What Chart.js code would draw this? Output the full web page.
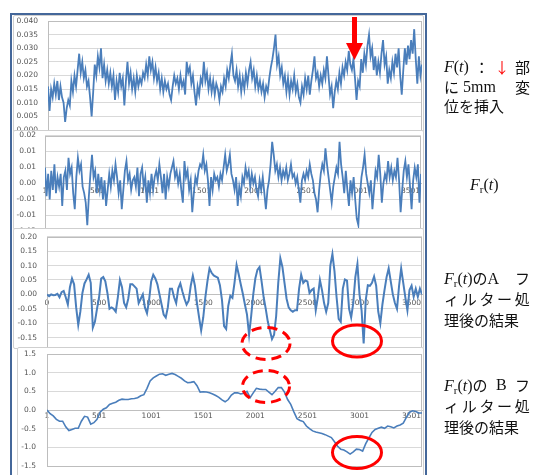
<!DOCTYPE html>
<html>
<head>
<meta charset="utf-8">
<script src="https://cdn.jsdelivr.net/npm/chart.js@4.4.0/dist/chart.umd.min.js"></script>
<style>
body{margin:0;width:534px;height:475px;overflow:hidden;background:#fff;position:relative;font-family:"Noto Sans CJK JP",sans-serif}
.panel{position:absolute;background:#fff;border:1px solid #cfcfcf;border-radius:2px;overflow:hidden;box-sizing:border-box}
.panel canvas{position:absolute;left:0;top:0}
#frame{position:absolute;left:10px;top:13px;width:417px;height:470px;border:2px solid #44679a;border-bottom:none;box-sizing:border-box;pointer-events:none}
.note{position:absolute;left:444px;width:86px;font-size:15px;line-height:18px;height:18px;white-space:nowrap;color:#111;display:flex;align-items:center}
.jus{justify-content:space-between}
.m{font-family:"Liberation Serif",serif;font-size:16px}
.m i{font-style:italic}
.m sub{font-size:11px;vertical-align:-3px;line-height:0}
.red{color:#ff0000}
</style>
</head>
<body>

<div class="panel" style="left:13px;top:15px;width:411px;height:118px"><canvas id="c1" width="409" height="120"></canvas></div>
<div class="panel" style="left:13px;top:130px;width:411px;height:100px"><canvas id="c2" width="409" height="104"></canvas></div>
<div class="panel" style="left:13px;top:228px;width:411px;height:121px"><canvas id="c3" width="409" height="127"></canvas></div>
<div class="panel" style="left:17px;top:347px;width:407px;height:130px"><canvas id="c4" width="405" height="124"></canvas></div>
<div id="frame"></div>

<svg width="534" height="475" style="position:absolute;left:0;top:0;pointer-events:none">
  <polygon points="352,17 357,17 357,43 363,43 354.5,60 346,43 352,43" fill="#ff0000"/>
  <ellipse cx="266" cy="343.5" rx="24" ry="16" fill="none" stroke="#ff0000" stroke-width="3" stroke-dasharray="10 6"/>
  <ellipse cx="357" cy="341" rx="24.5" ry="16" fill="none" stroke="#ff0000" stroke-width="3"/>
  <ellipse cx="266" cy="386.5" rx="23.5" ry="16" fill="none" stroke="#ff0000" stroke-width="3" stroke-dasharray="10 6"/>
  <ellipse cx="357" cy="452.5" rx="24.5" ry="16" fill="none" stroke="#ff0000" stroke-width="3"/>
</svg>

<div class="note jus" style="top:58px"><span class="m"><i>F</i>(<i>t</i>)</span><span>：</span><span class="red">↓</span><span>部</span></div>
<div class="note" style="top:78px"><span>に</span><span class="m" style="margin-left:4px">5mm</span><span style="margin-left:auto">変</span></div>
<div class="note" style="top:97px"><span>位を挿入</span></div>

<div class="note" style="top:176px;left:470px"><span class="m"><i>F</i><sub>r</sub>(<i>t</i>)</span></div>

<div class="note jus" style="top:269px"><span><span class="m"><i>F</i><sub>r</sub>(<i>t</i>)</span>の<span class="m">A</span></span><span>フ</span></div>
<div class="note" style="top:290px;letter-spacing:2.7px"><span>ィルター処</span></div>
<div class="note" style="top:311px"><span>理後の結果</span></div>

<div class="note jus" style="top:376px"><span><span class="m"><i>F</i><sub>r</sub>(<i>t</i>)</span>の</span><span class="m">B</span><span>フ</span></div>
<div class="note" style="top:397px;letter-spacing:2.7px"><span>ィルター処</span></div>
<div class="note" style="top:418px"><span>理後の結果</span></div>

<script>
// F(t): raw displacement, one value every 15 samples
const p1Step = 15
const p1Values = [
  0.016, 0.007, 0.015, 0.012, 0.017, 0.013, 0.018, 0.011, 0.016, 0.012,
  0.010, 0.003, 0.008, 0.011, 0.009, 0.018, 0.014, 0.020, 0.016, 0.022,
  0.028, 0.021, 0.025, 0.019, 0.022, 0.016, 0.018, 0.012, 0.005, 0.014,
  0.024, 0.020, 0.027, 0.023, 0.030, 0.019, 0.024, 0.018, 0.022, 0.017,
  0.021, 0.016, 0.020, 0.011, 0.018, 0.014, 0.021, 0.016, 0.019, 0.009,
  0.018, 0.025, 0.017, 0.021, 0.015, 0.019, 0.014, 0.020, 0.016, 0.019,
  0.017, 0.021, 0.019, 0.024, 0.020, 0.027, 0.022, 0.025, 0.019, 0.023,
  0.018, 0.021, 0.015, 0.019, 0.014, 0.018, 0.015, 0.017, 0.013, 0.011,
  0.016, 0.020, 0.017, 0.019, 0.015, 0.020, 0.016, 0.018, 0.013, 0.025,
  0.021, 0.023, 0.017, 0.020, 0.014, 0.009, 0.016, 0.013, 0.019, 0.017,
  0.025, 0.018, 0.021, 0.015, 0.019, 0.014, 0.018, 0.013, 0.017, 0.015,
  0.011, 0.016, 0.014, 0.019, 0.016, 0.022, 0.019, 0.024, 0.028, 0.020,
  0.018, 0.022, 0.016, 0.020, 0.014, 0.019, 0.015, 0.021, 0.017, 0.022,
  0.025, 0.019, 0.022, 0.016, 0.020, 0.015, 0.018, 0.014, 0.017, 0.012,
  0.016, 0.014, 0.019, 0.023, 0.026, 0.030, 0.035, 0.024, 0.027, 0.020,
  0.023, 0.017, 0.020, 0.014, 0.019, 0.013, 0.018, 0.015, 0.020, 0.014,
  0.017, 0.012, 0.010, 0.016, 0.013, 0.019, 0.015, 0.020, 0.013, 0.018,
  0.022, 0.027, 0.019, 0.021, 0.016, 0.020, 0.017, 0.022, 0.019, 0.027,
  0.020, 0.013, 0.016, 0.008, 0.014, 0.018, 0.015, 0.021, 0.017, 0.023,
  0.020, 0.025, 0.022, 0.029, 0.024, 0.022, 0.026, 0.019, 0.011, 0.018,
  0.016, 0.026, 0.021, 0.028, 0.024, 0.031, 0.035, 0.027, 0.030, 0.022,
  0.027, 0.020, 0.025, 0.021, 0.028, 0.033, 0.024, 0.027, 0.017, 0.022,
  0.019, 0.025, 0.021, 0.028, 0.023, 0.030, 0.020, 0.013, 0.022, 0.030,
  0.024, 0.031, 0.026, 0.033, 0.028, 0.037, 0.026, 0.017, 0.027, 0.020, 0.024
]

// Fr(t)
const p2Step = 15
const p2Values = [
  0.005, -0.004, 0.003, -0.005, 0.004, -0.002, 0.006, -0.003, 0.002, -0.001,
  0.003, -0.007, 0.002, 0.004, -0.002, 0.008, 0.003, 0.005, -0.003, -0.008,
  0.002, 0.008, 0.004, 0.006, -0.001, -0.003, -0.006, -0.013, -0.004, 0.003,
  0.009, 0.002, 0.004, -0.003, 0.003, -0.002, 0.002, -0.005, 0.001, -0.007,
  -0.002, 0.003, -0.001, 0.004, 0.001, 0.006, 0.002, -0.003, 0.001, -0.008,
  -0.002, 0.004, 0.007, 0.001, 0.003, -0.002, 0.001, 0.002, -0.001, 0.005,
  -0.004, 0.003, 0.005, -0.001, 0.002, -0.006, 0.001, -0.003, 0.003, -0.002,
  0.002, 0.004, 0.001, 0.006, 0.002, -0.003, 0.003, -0.005, 0.002, -0.001,
  0.003, 0.005, 0.007, 0.002, 0.004, 0.000, 0.003, -0.002, -0.006, 0.007,
  0.002, 0.004, -0.002, 0.001, -0.009, -0.003, 0.002, 0.000, 0.004, 0.006,
  0.005, 0.009, 0.004, 0.006, 0.001, -0.007, 0.002, -0.002, 0.003, 0.001,
  0.002, -0.001, 0.003, 0.001, 0.005, 0.009, 0.004, 0.006, 0.009, 0.003,
  0.001, -0.002, 0.002, -0.007, -0.001, -0.004, 0.002, 0.000, 0.005, 0.002,
  0.004, -0.001, 0.003, 0.000, 0.002, -0.002, -0.004, 0.001, -0.002, 0.002,
  -0.003, -0.008, -0.002, 0.001, 0.006, 0.013, 0.009, 0.004, 0.006, 0.002,
  0.005, 0.001, 0.004, 0.002, 0.005, 0.001, 0.003, 0.006, 0.002, 0.003,
  0.000, 0.002, -0.002, -0.006, 0.001, 0.003, 0.001, 0.004, 0.002, 0.006,
  0.003, 0.001, -0.003, -0.005, -0.009, -0.002, 0.003, 0.006, 0.004, 0.011,
  0.006, 0.002, -0.002, -0.006, -0.001, 0.002, 0.005, 0.003, 0.013, 0.006,
  0.002, -0.003, 0.004, -0.002, -0.007, 0.001, -0.003, 0.002, -0.005, -0.011,
  -0.013, -0.004, 0.002, 0.005, 0.009, 0.003, 0.000, -0.003, 0.001, -0.008,
  -0.002, 0.004, 0.002, 0.009, 0.003, -0.006, 0.000, 0.003, 0.001, 0.007,
  0.002, 0.005, 0.001, 0.004, 0.002, 0.008, 0.001, -0.009, -0.002, 0.004,
  0.007, 0.002, 0.006, -0.001, -0.008, 0.001, 0.005, 0.002, 0.006, -0.006, 0.003
]
const p2TickLabels = ['-0.02', '-0.01', '-0.01', '0.00', '0.01', '0.01', '0.02']

// Fr(t) after filter A
const p3Step = 20
const p3Values = [
  0.000, -0.006, 0.000, -0.003, -0.002, 0.002, -0.010, 0.008, 0.012, -0.010,
  -0.035, 0.025, 0.055, 0.035, -0.045, -0.106, -0.060, 0.005, 0.038, 0.052,
  0.068, 0.040, -0.115, -0.095, -0.050, -0.010, 0.055, 0.060, 0.045, 0.005,
  -0.050, -0.045, -0.050, -0.060, -0.010, 0.050, 0.025, -0.030, -0.045, -0.015,
  0.035, 0.035, 0.028, 0.020, -0.030, -0.015, 0.000, -0.045, -0.065, -0.020,
  0.045, 0.068, 0.055, 0.035, 0.000, -0.035, -0.070, -0.080, -0.045, 0.020,
  0.020, -0.010, -0.030, 0.020, 0.038, 0.010, -0.015, -0.035, -0.022, 0.030,
  0.065, 0.030, -0.030, -0.080, -0.125, -0.080, -0.010, 0.045, 0.090, 0.075,
  0.066, 0.062, 0.058, 0.032, -0.020, -0.110, -0.120, -0.040, -0.005, -0.012,
  0.040, 0.102, 0.070, 0.035, 0.002, -0.035, -0.070, -0.140, -0.075, 0.000,
  0.055, 0.085, 0.095, 0.045, -0.010, -0.050, -0.095, -0.125, -0.155, -0.140,
  -0.075, 0.040, 0.125, 0.095, 0.040, -0.015, -0.045, -0.055, -0.060, -0.055,
  -0.055, 0.020, 0.068, 0.040, 0.048, 0.045, 0.005, 0.015, 0.020, -0.055,
  -0.010, 0.050, 0.015, -0.030, -0.060, -0.030, 0.100, 0.140, 0.080, -0.010,
  -0.085, -0.095, 0.020, 0.052, 0.048, -0.050, -0.080, -0.030, 0.060, 0.105,
  0.000, -0.055, -0.170, -0.020, 0.032, 0.030, 0.040, 0.062, 0.030, -0.060,
  -0.100, -0.035, 0.015, 0.060, 0.090, 0.045, 0.000, -0.030, -0.050, 0.030,
  0.090, 0.040, -0.010, -0.055, 0.015, 0.030, -0.008, 0.020, -0.008, 0.020,
  0.000
]

// Fr(t) after filter B
const p4Step = 30
const p4Values = [
  0.00, -0.10, -0.16, -0.25, -0.30, -0.30, -0.45, -0.55, -0.52, -0.49,
  -0.49, -0.30, -0.17, -0.19, -0.38, -0.34, -0.25, -0.06, 0.02, 0.06,
  0.15, 0.18, 0.21, 0.26, 0.29, 0.28, 0.28, 0.30, 0.31, 0.33,
  0.38, 0.41, 0.58, 0.78, 0.86, 0.91, 0.96, 0.97, 0.93, 0.96,
  0.98, 0.95, 0.90, 0.85, 0.78, 0.73, 0.74, 0.76, 0.65, 0.48,
  0.49, 0.48, 0.46, 0.43, 0.39, 0.34, 0.27, 0.22, 0.28, 0.40,
  0.46, 0.46, 0.43, 0.45, 0.50, 0.33, 0.46, 0.58, 0.56, 0.55,
  0.55, 0.48, 0.41, 0.50, 0.60, 0.60, 0.48, 0.28, 0.15, -0.05,
  -0.23, -0.28, -0.31, -0.43, -0.50, -0.56, -0.59, -0.61, -0.63, -0.66,
  -0.70, -0.74, -0.85, -0.97, -1.05, -1.07, -1.12, -1.18, -1.12, -1.05,
  -1.06, -1.10, -0.90, -0.75, -0.60, -0.52, -0.49, -0.46, -0.49, -0.43,
  -0.45, -0.48, -0.43, -0.40, -0.35, -0.20, -0.06, -0.02, -0.04, -0.08,
  -0.08
]

// sample offsets where the horizontal axis is labelled
const xTickValues = [0, 500, 1000, 1500, 2000, 2500, 3000, 3500]

const lineColor = '#4a7ebb'
const gridColor = '#d9d9d9'
const tickFont = {family: 'DejaVu Sans', size: 7.5}
const tickColor = '#555'

const plotBorder = {
  id: 'plotBorder',
  beforeDatasetsDraw(chart) {
    const a = chart.chartArea
    const ctx = chart.ctx
    ctx.save()
    ctx.strokeStyle = '#bdbdbd'
    ctx.lineWidth = 1
    ctx.strokeRect(Math.round(a.left) + 0.5, Math.round(a.top) + 0.5, Math.round(a.right - a.left) - 1, Math.round(a.bottom - a.top))
    ctx.restore()
  }
}

function makePanel(id, values, step, opt) {
  const points = values.map((v, i) => ({x: i * step, y: v}))
  const xAxis = opt.xLabel ? {
    type: 'linear', min: 0, max: 3600,
    position: {y: 0},
    afterBuildTicks: s => { s.ticks = xTickValues.map(v => ({value: v})) },
    afterFit: s => { s.paddingLeft = 0; s.paddingRight = 0 },
    grid: {display: false, drawTicks: false},
    border: {display: true, color: '#bfbfbf'},
    ticks: {autoSkip: false, maxRotation: 0,
      padding: opt.xPad, font: tickFont, color: tickColor, callback: opt.xLabel}
  } : {type: 'linear', min: 0, max: 3600, display: false}

  return new Chart(document.getElementById(id), {
    type: 'line',
    data: {datasets: [{data: points, borderColor: lineColor, borderWidth: opt.width, pointRadius: 0, tension: 0}]},
    options: {
      responsive: false, animation: false, devicePixelRatio: 1,
      layout: {autoPadding: false, padding: opt.pad},
      plugins: {legend: {display: false}, tooltip: {enabled: false}},
      scales: {
        x: xAxis,
        y: {
          min: opt.min, max: opt.max,
          afterFit: s => { s.width = opt.yw; s.paddingTop = 0; s.paddingBottom = 0 },
          grid: {color: gridColor, drawTicks: false},
          border: {display: false},
          ticks: {stepSize: opt.stepY, padding: opt.yPad, font: tickFont, color: tickColor, callback: opt.yLabel}
        }
      }
    },
    plugins: [plotBorder]
  })
}

makePanel('c1', p1Values, p1Step, {
  min: 0, max: 0.04, stepY: 0.005, yw: 34, yPad: 10, width: 1.8,
  pad: {left: 0, top: 5, right: 1, bottom: 6},
  yLabel: v => v.toFixed(3)
})
makePanel('c2', p2Values, p2Step, {
  min: -0.015, max: 0.015, stepY: 0.005, yw: 31, yPad: 9, width: 1.8,
  pad: {left: 0, top: 4.5, right: 2, bottom: 3.5},
  yLabel: (v, i) => p2TickLabels[i],
  xLabel: v => String(v + 1), xPad: 3
})
makePanel('c3', p3Values, p3Step, {
  min: -0.2, max: 0.2, stepY: 0.05, yw: 33, yPad: 10, width: 2,
  pad: {left: 0, top: 7.7, right: 1, bottom: 3.9},
  yLabel: v => v.toFixed(2),
  xLabel: v => String(v), xPad: 4
})
makePanel('c4', p4Values, p4Step, {
  min: -1.5, max: 1.5, stepY: 0.5, yw: 29, yPad: 11, width: 1.6,
  pad: {left: 0, top: 6, right: 1, bottom: 6},
  yLabel: v => v.toFixed(1),
  xLabel: v => String(v + 1), xPad: 2
})
</script>
</body>
</html>
